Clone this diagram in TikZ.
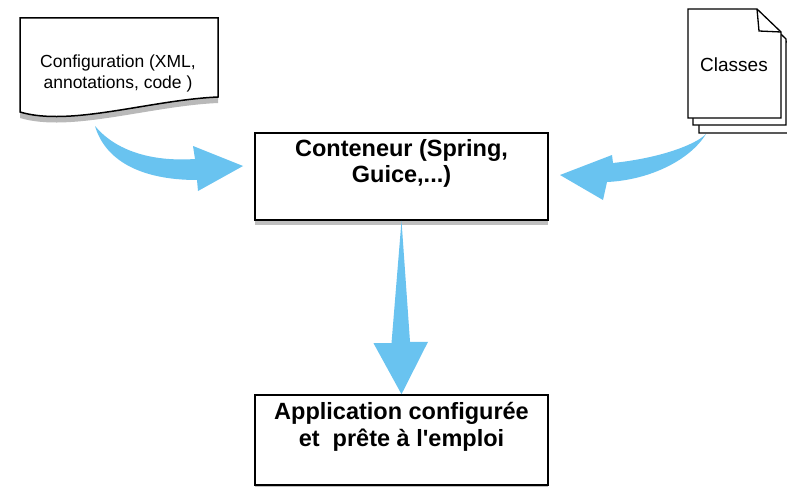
\documentclass[tikz,border=0pt]{standalone}
\usepackage{fontspec}
\setmainfont{Liberation Sans}
\usetikzlibrary{shadows}
\usetikzlibrary{positioning}
\definecolor{flowblue}{RGB}{105,195,240}
\tikzset{
  box/.style={draw=black, line width=1.6pt, fill=white, inner sep=0pt,
    minimum width=293pt, minimum height=87pt,
    drop shadow={shadow xshift=0pt, shadow yshift=-5pt, opacity=.5}},
  boxtext/.style={font=\fontsize{23.5}{26.5}\selectfont\bfseries, align=center, inner sep=0pt},
  doctext/.style={font=\fontsize{17.5}{20.5}\selectfont, align=center, inner sep=0pt},
  flow/.style={fill=flowblue, draw=none},
  page/.style={draw=black, line width=1.3pt, fill=white},
}
\begin{document}
\begin{tikzpicture}[x=1pt,y=-1pt]
    \useasboundingbox[fill=white] (0,0) rectangle (787,487);
    % the two boxes
    \node[box] (cont) at (401.5,176.5) {};
    \node[box, minimum height=90pt] (app) at (401.5,440) {};
    \node[boxtext, below=7pt of cont.north] (conttxt) {Conteneur (Spring,\\Guice,...)};
    \node[boxtext, below=8pt of app.north] (apptxt) {Application configur\'ee\\et~~pr\^ete \`a l\textquotesingle emploi};
    % configuration document
    \draw[page, line width=1.5pt, drop shadow={shadow xshift=0pt, shadow yshift=-6pt, opacity=.55}]
      (20,18) -- (218,18) -- (218,97) .. controls (150,100) and (70,127) .. (20,112) -- cycle;
    \node[doctext, anchor=north] (cfg) at (118,55) {Configuration (XML,\\annotations, code )};
    % stack of classes
    \foreach \dx/\dy in {11/15, 5/7, 0/0}
      \draw[page, shift={(\dx,\dy)}] (688,9) -- (757,9) -- (781,32) -- (781,118) -- (688,118) -- cycle;
    \draw[page, fill=none] (757,9) -- (759,31) -- (781,32);
    \node[doctext, font=\fontsize{19}{21}\selectfont, anchor=north] (cls) at (734,58) {Classes};
    % arrows
    \coordinate (cfgtail) at (95,126);
    \coordinate (conttipl) at (243,166);
    \coordinate (clstail) at (706,134);
    \coordinate (conttipr) at (560,175);
    \fill[flow] (cfgtail) .. controls (115,150) and (150,162) .. (195,159)
      -- (193,146) -- (conttipl) -- (198,191) -- (197,180)
      .. controls (140,180) and (105,160) .. (cfgtail) -- cycle;
    \fill[flow] (clstail) .. controls (690,160) and (650,180) .. (607,182)
      -- (603,200) -- (conttipr) -- (612,155) -- (613,163)
      .. controls (660,158) and (695,145) .. (clstail) -- cycle;
    \fill[flow] (cont.south) -- ++(8.5,121) -- ++(18,0) -- (app.north)
      -- ++(-28,-51) -- ++(18,0) -- cycle;
  \end{tikzpicture}
\end{document}
